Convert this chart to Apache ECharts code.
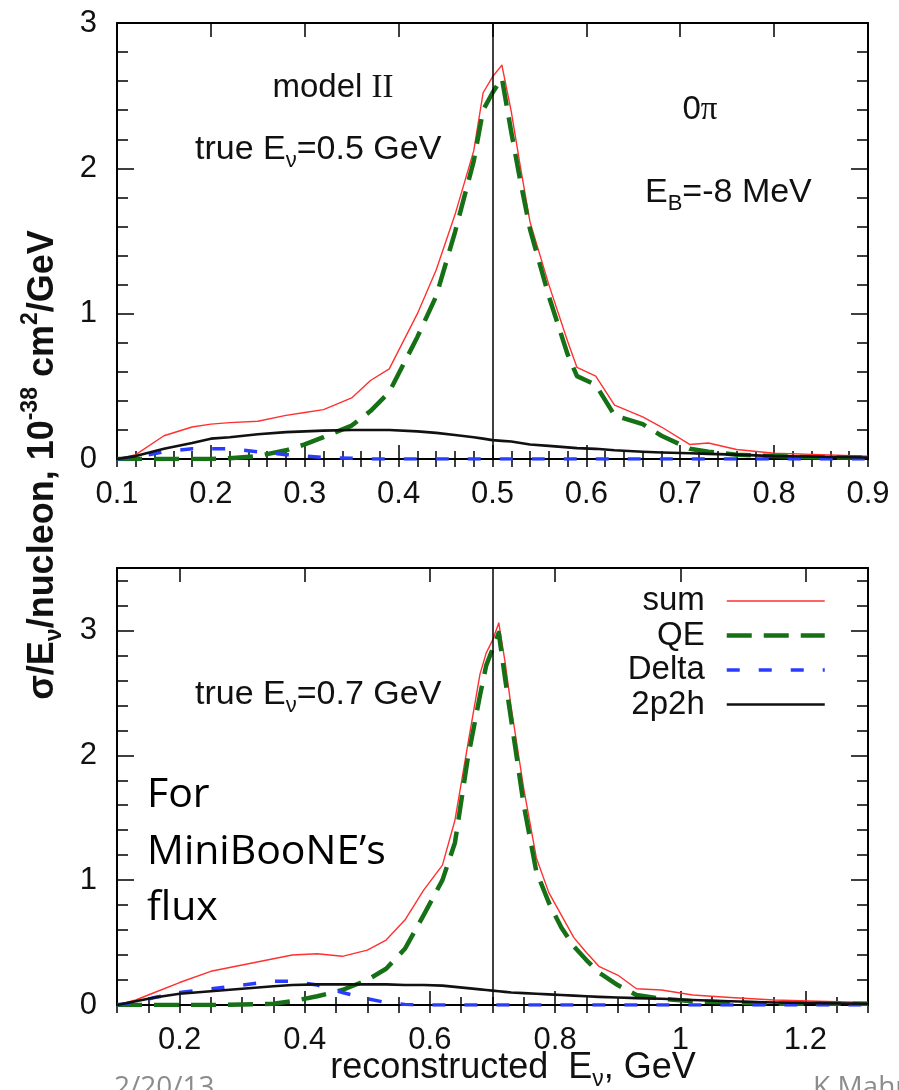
<!DOCTYPE html>
<html>
<head>
<meta charset="utf-8">
<script src="https://cdn.jsdelivr.net/npm/echarts@6/dist/echarts.min.js"></script>
<style>
  html, body { margin: 0; padding: 0; background: #fff; }
  #chart { width: 899px; height: 1090px; }
</style>
</head>
<body>
<div id="chart"></div>
<script>
// Upper panel: true E_nu = 0.5 GeV (reconstructed energy, GeV)
const upperEnergy = [0.10, 0.12, 0.15, 0.18, 0.20, 0.22, 0.25, 0.28, 0.30, 0.32, 0.35, 0.37,
  0.39, 0.42, 0.44, 0.46, 0.48, 0.49, 0.50, 0.51, 0.52, 0.53, 0.54, 0.56, 0.58, 0.59, 0.61,
  0.63, 0.66, 0.68, 0.71, 0.73, 0.76, 0.80, 0.85, 0.90];
const upperSum = [0.00, 0.03, 0.16, 0.22, 0.24, 0.25, 0.26, 0.30, 0.32, 0.34, 0.42, 0.54,
  0.62, 1.00, 1.30, 1.68, 2.12, 2.52, 2.63, 2.71, 2.39, 2.00, 1.63, 1.20, 0.81, 0.63, 0.57,
  0.37, 0.29, 0.22, 0.10, 0.11, 0.065, 0.04, 0.03, 0.02];
const upperQE = [0, 0, 0, 0, 0, 0.005, 0.02, 0.06, 0.10, 0.15, 0.23, 0.33,
  0.46, 0.84, 1.12, 1.56, 2.05, 2.40, 2.52, 2.62, 2.25, 1.90, 1.58, 1.12, 0.72, 0.57, 0.51,
  0.30, 0.24, 0.16, 0.07, 0.05, 0.03, 0.02, 0.01, 0.01];
const upperDelta = [0, 0.01, 0.05, 0.07, 0.07, 0.07, 0.05, 0.03, 0.02, 0.01, 0.005, 0,
  0, 0, 0, 0, 0, 0, 0, 0, 0, 0, 0, 0, 0, 0, 0,
  0, 0, 0, 0, 0, 0, 0, 0, 0];
const upper2p2h = [0, 0.02, 0.07, 0.11, 0.14, 0.15, 0.17, 0.185, 0.19, 0.195, 0.20, 0.20,
  0.20, 0.19, 0.18, 0.165, 0.15, 0.14, 0.13, 0.125, 0.12, 0.11, 0.10, 0.09, 0.08, 0.075, 0.07,
  0.06, 0.05, 0.045, 0.04, 0.035, 0.03, 0.02, 0.015, 0.01];

// Lower panel: true E_nu = 0.7 GeV
const lowerEnergy = [0.10, 0.13, 0.16, 0.20, 0.25, 0.30, 0.35, 0.38, 0.42, 0.46, 0.50, 0.53,
  0.56, 0.59, 0.62, 0.64, 0.66, 0.68, 0.69, 0.70, 0.71, 0.72, 0.73, 0.75, 0.77, 0.79, 0.81,
  0.83, 0.85, 0.87, 0.90, 0.93, 0.97, 1.02, 1.08, 1.15, 1.22, 1.30];
const lowerSum = [0, 0.04, 0.10, 0.18, 0.27, 0.32, 0.37, 0.40, 0.41, 0.39, 0.44, 0.52,
  0.68, 0.92, 1.12, 1.48, 2.07, 2.65, 2.82, 2.92, 3.06, 2.75, 2.38, 1.73, 1.18, 0.90, 0.72,
  0.54, 0.42, 0.31, 0.24, 0.13, 0.12, 0.08, 0.06, 0.04, 0.03, 0.02];
const lowerQE = [0, 0, 0, 0, 0, 0.005, 0.01, 0.03, 0.07, 0.12, 0.20, 0.29,
  0.45, 0.72, 1.00, 1.30, 1.96, 2.48, 2.72, 2.85, 2.98, 2.62, 2.28, 1.60, 1.07, 0.82, 0.62,
  0.47, 0.36, 0.26, 0.16, 0.08, 0.05, 0.03, 0.02, 0.01, 0.01, 0.01];
const lowerDelta = [0, 0.02, 0.06, 0.10, 0.13, 0.16, 0.19, 0.19, 0.16, 0.10, 0.05, 0.02,
  0.005, 0, 0, 0, 0, 0, 0, 0, 0, 0, 0, 0, 0, 0, 0,
  0, 0, 0, 0, 0, 0, 0, 0, 0, 0, 0];
const lower2p2h = [0, 0.03, 0.06, 0.09, 0.11, 0.13, 0.15, 0.16, 0.165, 0.165, 0.165, 0.165,
  0.16, 0.16, 0.155, 0.145, 0.135, 0.125, 0.12, 0.115, 0.11, 0.105, 0.10, 0.095, 0.09, 0.085, 0.08,
  0.075, 0.07, 0.065, 0.06, 0.055, 0.05, 0.04, 0.03, 0.02, 0.015, 0.01];

// true neutrino energies (vertical reference lines)
const trueEnergy = [0.5, 0.7];

// tick labels
const upperXTicks = [0.1, 0.2, 0.3, 0.4, 0.5, 0.6, 0.7, 0.8, 0.9];
const upperYTicks = [0, 1, 2, 3];
const lowerXTicks = [0.2, 0.4, 0.6, 0.8, 1, 1.2];
const lowerYTicks = [0, 1, 2, 3];

const seriesNames = ['sum', 'QE', 'Delta', '2p2h'];

const SANS = '"Liberation Sans", Arial, Helvetica, sans-serif';
const SERIF = '"Liberation Serif", "Times New Roman", serif';
const INK = '#111';

const styles = {
  sum:   { color: '#ff3030', width: 1.4, type: 'solid' },
  QE:    { color: '#167016', width: 4.5, type: [25, 12] },
  Delta: { color: '#2a3cff', width: 3.5, type: [13, 19] },
  '2p2h': { color: '#111111', width: 2.6, type: 'solid' }
};

const tickLine = { color: '#000', width: 1.5 };
const frameLine = { color: '#000', width: 2 };

// four axes per side pair: framed major axis, minor tick axis, mirrored major, mirrored minor
function makeXAxes(gi, min, max, majors, minorStep) {
  const base = { gridIndex: gi, type: 'value', min: min, max: max, splitLine: { show: false } };
  return [
    Object.assign({}, base, {
      position: 'bottom',
      axisLine: { show: true, onZero: false, lineStyle: frameLine },
      axisTick: { show: true, inside: true, length: 14, customValues: majors, lineStyle: tickLine },
      axisLabel: { show: true, customValues: majors, margin: 20, color: INK,
        fontFamily: SANS, fontSize: 31, formatter: v => String(+(+v).toFixed(2)) }
    }),
    Object.assign({}, base, {
      position: 'bottom', interval: minorStep,
      axisLine: { show: false },
      axisTick: { show: true, inside: true, length: 8, lineStyle: tickLine },
      axisLabel: { show: false }
    }),
    Object.assign({}, base, {
      position: 'top',
      axisLine: { show: true, onZero: false, lineStyle: frameLine },
      axisTick: { show: true, inside: true, length: 14, customValues: majors, lineStyle: tickLine },
      axisLabel: { show: false }
    }),
    Object.assign({}, base, {
      position: 'top', interval: minorStep,
      axisLine: { show: false },
      axisTick: { show: true, inside: true, length: 8, lineStyle: tickLine },
      axisLabel: { show: false }
    })
  ];
}

function makeYAxes(gi, min, max, majors, minorStep) {
  const base = { gridIndex: gi, type: 'value', min: min, max: max, splitLine: { show: false } };
  return [
    Object.assign({}, base, {
      position: 'left',
      axisLine: { show: true, onZero: false, lineStyle: frameLine },
      axisTick: { show: true, inside: true, length: 17, customValues: majors, lineStyle: tickLine },
      axisLabel: { show: true, customValues: majors, margin: 20, color: INK,
        fontFamily: SANS, fontSize: 31 }
    }),
    Object.assign({}, base, {
      position: 'left', interval: minorStep,
      axisLine: { show: false },
      axisTick: { show: true, inside: true, length: 11, lineStyle: tickLine },
      axisLabel: { show: false }
    }),
    Object.assign({}, base, {
      position: 'right',
      axisLine: { show: true, onZero: false, lineStyle: frameLine },
      axisTick: { show: true, inside: true, length: 17, customValues: majors, lineStyle: tickLine },
      axisLabel: { show: false }
    }),
    Object.assign({}, base, {
      position: 'right', interval: minorStep,
      axisLine: { show: false },
      axisTick: { show: true, inside: true, length: 11, lineStyle: tickLine },
      axisLabel: { show: false }
    })
  ];
}

const xAxes = makeXAxes(0, 0.1, 0.9, upperXTicks, 0.02)
  .concat(makeXAxes(1, 0.1, 1.3, lowerXTicks, 0.05));
const yAxes = makeYAxes(0, 0, 3, upperYTicks, 0.2)
  .concat(makeYAxes(1, 0, 3.5, lowerYTicks, 0.2));

function pairs(xs, ys) { return xs.map((x, i) => [x, ys[i]]); }

function panelSeries(xs, sets, axisIdx, eTrue) {
  return seriesNames.map((name, k) => {
    const st = styles[name];
    const s = {
      name: name,
      type: 'line',
      xAxisIndex: axisIdx,
      yAxisIndex: axisIdx,
      symbol: 'none',
      smooth: false,
      clip: true,
      data: pairs(xs, sets[k]),
      lineStyle: { color: st.color, width: st.width, type: st.type, cap: 'butt', join: 'round' },
      itemStyle: { color: st.color },
      z: 3 + k
    };
    if (k === 0) {
      s.markLine = {
        silent: true, symbol: 'none', animation: false,
        label: { show: false },
        lineStyle: { color: '#000', width: 1.5, type: 'solid' },
        data: [{ xAxis: eTrue }]
      };
    }
    return s;
  });
}

const series = panelSeries(upperEnergy, [upperSum, upperQE, upperDelta, upper2p2h], 0, trueEnergy[0])
  .concat(panelSeries(lowerEnergy, [lowerSum, lowerQE, lowerDelta, lower2p2h], 4, trueEnergy[1]));

// rich-text styles shared by annotations
function richSet(size, family, bold) {
  const w = bold ? 'bold' : 'normal';
  const small = Math.round(size * 0.64);
  const lh = Math.round(size * 1.3);
  return {
    n: { fontFamily: family, fontSize: size, fontWeight: w, lineHeight: lh, fill: INK },
    r: { fontFamily: SERIF, fontSize: size, fontWeight: w, lineHeight: lh, fill: INK },
    s: { fontFamily: family, fontSize: small, fontWeight: w, lineHeight: small,
         padding: [lh - small, 0, 0, 0], fill: INK },
    p: { fontFamily: family, fontSize: small, fontWeight: w, lineHeight: small,
         padding: [0, 0, lh - small, 0], fill: INK }
  };
}

function label(x, y, text, size, opts) {
  opts = opts || {};
  return {
    type: 'text', x: x, y: y, rotation: opts.rotation || 0, z: 20,
    style: {
      text: text, rich: richSet(size, opts.family || SANS, opts.bold),
      align: opts.align || 'left', verticalAlign: 'middle',
      fontFamily: opts.family || SANS, fontSize: size, fill: opts.color || INK
    }
  };
}

function plain(x, y, text, size, color) {
  return {
    type: 'text', x: x, y: y, z: 20,
    style: { text: text, fontFamily: '"Open Sans", sans-serif', fontSize: size, fill: color,
      align: 'left', verticalAlign: 'middle' }
  };
}

const graphics = [
  label(333, 88, '{n|model }{r|II}', 33, { align: 'center' }),
  label(195, 150, '{n|true E}{s|ν}{n|=0.5 GeV}', 34),
  label(700, 110, '{n|0}{r|π}', 33, { align: 'center' }),
  label(645, 193, '{n|E}{s|B}{n|=-8 MeV}', 34),
  label(195, 695, '{n|true E}{s|ν}{n|=0.7 GeV}', 34),
  label(43, 465, '{n|σ/E}{s|ν}{n|/nucleon, 10}{p|-38}{n| cm}{p|2}{n|/GeV}', 36,
    { align: 'center', rotation: Math.PI / 2, bold: true }),
  label(513, 1068, '{n|reconstructed  E}{s|ν}{n|, GeV}', 36, { align: 'center' }),
  plain(147, 795, 'For', 41, '#000'),
  plain(147, 852, 'MiniBooNE’s', 41, '#000'),
  plain(147, 908, 'flux', 41, '#000'),
  plain(114, 1088, '2/20/13', 28, '#8c8c8c'),
  plain(813, 1088, 'K Mahn', 28, '#8c8c8c')
];

const chart = echarts.init(document.getElementById('chart'), null, { renderer: 'canvas' });
chart.setOption({
  animation: false,
  backgroundColor: '#fff',
  grid: [
    { left: 117, top: 23, width: 751, height: 436, outerBoundsMode: 'none' },
    { left: 117, top: 568, width: 751, height: 437, outerBoundsMode: 'none' }
  ],
  xAxis: xAxes,
  yAxis: yAxes,
  legend: {
    data: seriesNames,
    orient: 'vertical',
    right: 72,
    top: 584,
    align: 'right',
    itemWidth: 98,
    itemHeight: 14,
    itemGap: 0.5,
    padding: 0,
    itemStyle: { opacity: 0 },
    lineStyle: { width: 'inherit', type: 'inherit', opacity: 1 },
    textStyle: { fontFamily: SANS, fontSize: 33, color: INK, lineHeight: 34, padding: [0, 17, 0, 0] }
  },
  series: series,
  graphic: graphics
});
</script>
</body>
</html>
